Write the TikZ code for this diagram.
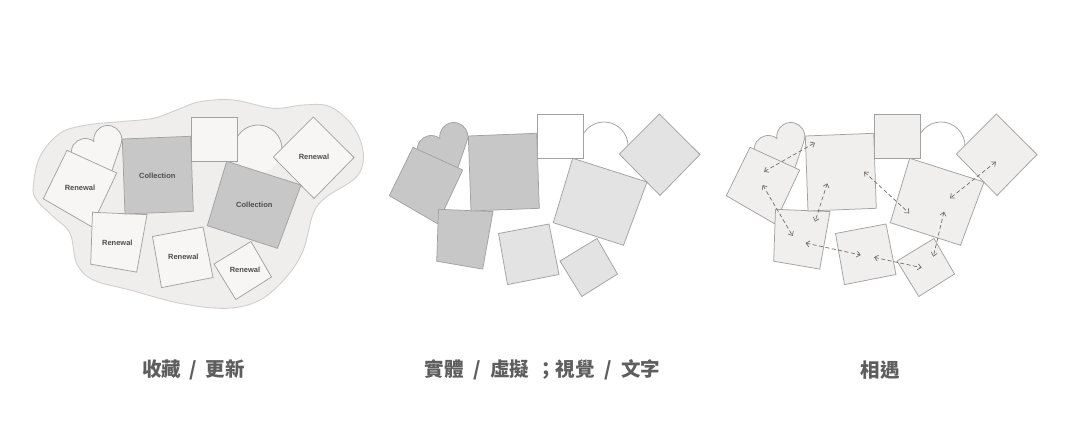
\documentclass[tikz,border=0pt]{standalone}
\usepackage{fontspec}
\setmainfont{Liberation Sans}
\newfontfamily\cjk{Noto Sans CJK TC}
\usetikzlibrary{arrows.meta}

\definecolor{blobfill}{HTML}{F0EEEC}
\definecolor{blobline}{HTML}{D0CFCE}
\definecolor{edge}{HTML}{A2A2A2}
\definecolor{paper}{HTML}{F7F6F5}
\definecolor{darkgrey}{HTML}{C7C7C7}
\definecolor{lightgrey}{HTML}{E3E3E3}
\definecolor{softgrey}{HTML}{F0EFEE}
\definecolor{ink}{HTML}{4E4E4E}
\definecolor{capgrey}{HTML}{5E5E5E}
\definecolor{dashgrey}{HTML}{707070}

\newcommand{\cluster}{%
  \fill[arcbox] (604,146) circle[radius=24];
  \draw[edgeline] (580,146) arc[start angle=180, end angle=360, radius=24];
  \begin{scope}[shift={(442.5,143)}, rotate=30]
    \filldraw[leftset] (0,-5.2) arc[start angle=201.8, end angle=408.7, radius=14] -- (0,30)
      -- (-22.25,10.51) arc[start angle=131.3, end angle=338.2, radius=14] -- cycle;
  \end{scope}
  \filldraw[topbox] (537.3,114) -- (583.3,114) -- (583.3,158.3) -- (537.3,158.3) -- cycle;
  \filldraw[rightset] (659.3,114) -- (700,154.5) -- (660,195.5) -- (619.3,154) -- cycle;
  \filldraw[rightset] (560,261) -- (597,238.5) -- (617.5,274) -- (581.8,296.5) -- cycle;
  \filldraw[rightset] (498.5,233.5) -- (549,224) -- (559,274.5) -- (507.5,284.6) -- cycle;
  \filldraw[rightset, collectionbox] (572.7,158.3) -- (647,182) -- (623.5,245.3) -- (553.3,222.7) -- cycle;
  \filldraw[leftset] (413,147.3) -- (462.7,170) -- (437.5,223.7) -- (389.3,195.7) -- cycle;
  \filldraw[leftset] (438.5,209.3) -- (493,211.6) -- (482.7,269.1) -- (436.7,261.2) -- cycle;
  \filldraw[leftset, collectionbox] (468.3,136) -- (536.7,133.3) -- (539.3,208.3) -- (471,211) -- cycle;
}

\begin{document}
\begin{tikzpicture}[x=1pt, y=-1pt,
   edgeline/.style={draw=edge, line width=0.75pt},
   blob/.style={fill=blobfill, draw=blobline, line width=0.9pt},
   tag/.style={font=\bfseries\fontsize{7.5}{7.5}\selectfont, text=ink, inner sep=0pt},
   caption/.style={font=\cjk\bfseries\fontsize{19.5}{19.5}\selectfont, text=capgrey, inner sep=0pt},
   meet/.style={draw=dashgrey, line width=0.7pt, dash pattern=on 4pt off 2.5pt, <->,
                >={Straight Barb[length=3.5pt, width=6pt]}}]

\useasboundingbox[fill=white] (0,0) rectangle (1080,443);

\draw[blob] plot[smooth cycle, tension=0.6] coordinates {
   (33.3,186.7) (40,156.7) (60,133.3) (86.7,125) (120,121.7) (153.3,118.3)
   (176.7,110) (200,101.7) (233.3,100) (273.3,108.3) (303.3,105) (330,106.7)
   (353.3,126.7) (363.3,153.3) (356.7,176.7) (326.7,196.7) (313.3,213.3)
   (303.3,250) (286.7,276.7) (260,300) (226.7,308.3) (180,303.3) (130,290)
   (93.3,280) (76.7,263.3) (70,233.3) (53.3,216.7) (36.7,200)};

\begin{scope}[shift={(-346,3)},
   leftset/.style={edgeline, fill=paper},
   rightset/.style={edgeline, fill=paper},
   collectionbox/.style={fill=darkgrey},
   topbox/.style={edgeline, fill=paper},
   arcbox/.style={fill=paper}]
  \cluster
  \node[tag] (collA) at (503.3,173) {Collection};
  \node[tag] (collB) at (600.3,202.3) {Collection};
  \node[tag] (renewL) at (426,185.3) {Renewal};
  \node[tag] (renewBL) at (463.3,239.7) {Renewal};
  \node[tag] (renewBM) at (529.3,254.3) {Renewal};
  \node[tag] (renewBR) at (591,267) {Renewal};
  \node[tag] (renewTR) at (660,153.7) {Renewal};
\end{scope}

\begin{scope}[
   leftset/.style={edgeline, fill=darkgrey},
   rightset/.style={edgeline, fill=lightgrey},
   collectionbox/.style={},
   topbox/.style={edgeline, fill=white},
   arcbox/.style={fill=none}]
  \cluster
\end{scope}

\begin{scope}[shift={(337,0)},
   leftset/.style={edgeline, fill=softgrey},
   rightset/.style={edgeline, fill=softgrey},
   collectionbox/.style={},
   topbox/.style={edgeline, fill=softgrey},
   arcbox/.style={fill=none}]
  \cluster
  \coordinate (heartA) at (427,171.7);
  \coordinate (collAtop) at (478,142.7);
  \coordinate (leftB) at (425.7,185);
  \coordinate (lowB) at (455.7,236);
  \coordinate (collAlow) at (490.3,183.3);
  \coordinate (lowC) at (478,221.7);
  \coordinate (collAright) at (527,171.7);
  \coordinate (collBleft) at (572.3,213.3);
  \coordinate (diamond) at (659,161.7);
  \coordinate (collBtop) at (613,198.3);
  \coordinate (collBlow) at (607,211.7);
  \coordinate (cornerA) at (596.3,256.7);
  \coordinate (lowD) at (468.5,243);
  \coordinate (midA) at (523.7,255);
  \coordinate (midB) at (537,257.3);
  \coordinate (cornerB) at (584.7,267.7);
  \draw[meet] (heartA) -- (collAtop);
  \draw[meet] (leftB) -- (lowB);
  \draw[meet] (collAlow) -- (lowC);
  \draw[meet] (collAright) -- (collBleft);
  \draw[meet] (diamond) -- (collBtop);
  \draw[meet] (collBlow) -- (cornerA);
  \draw[meet] (lowD) -- (midA);
  \draw[meet] (midB) -- (cornerB);
\end{scope}

\node[caption] (capkeep) at (193.3,370) {收藏\hspace{8.5pt}/\hspace{8.5pt}更新};
\node[caption] (capform) at (542.5,370) {實體\hspace{9.5pt}/\hspace{9.5pt}虛擬\hspace{7pt}；視覺\hspace{9.5pt}/\hspace{9.5pt}文字};
\node[caption] (capmeet) at (880,370) {相遇};

\end{tikzpicture}
\end{document}
